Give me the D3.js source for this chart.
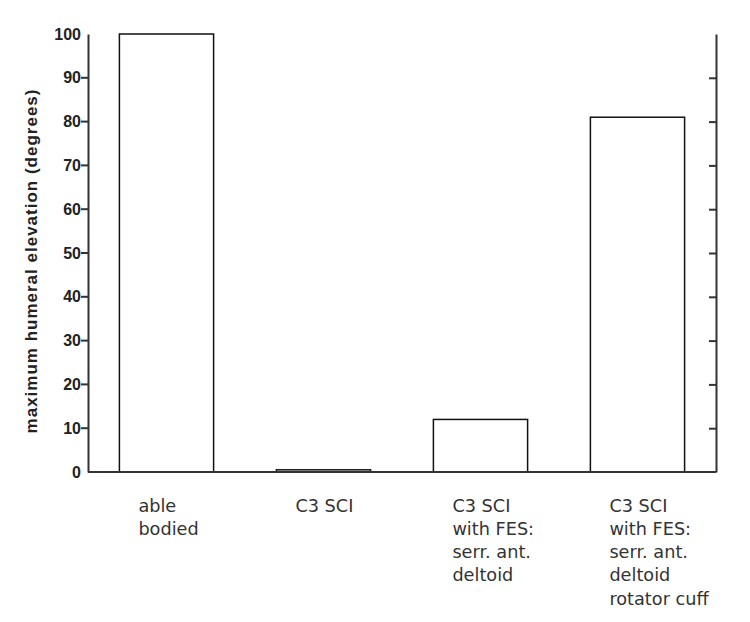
<!DOCTYPE html>
<html>
<head>
<meta charset="utf-8">
<script src="https://cdn.jsdelivr.net/npm/d3@7"></script>
<style>
  body { margin: 0; background: #fff; }
  svg text { font-family: "Liberation Sans", Arial, sans-serif; }
  svg text.cat { font-family: "DejaVu Sans", Verdana, sans-serif; }
</style>
</head>
<body>
<div id="chart"></div>
<script>
// data
const categories = ["able bodied", "C3 SCI", "C3 SCI with FES 1", "C3 SCI with FES 2"];
const catLines = [
  ["able", "bodied"],
  ["C3 SCI"],
  ["C3 SCI", "with FES:", "serr. ant.", "deltoid"],
  ["C3 SCI", "with FES:", "serr. ant.", "deltoid", "rotator cuff"]
];
const values = [100, 0.5, 12, 81];
const yTicks = [0, 10, 20, 30, 40, 50, 60, 70, 80, 90, 100];
const yTitle = "maximum humeral elevation (degrees)";

const W = 750, H = 622;
const margin = {top: 34, right: 34, bottom: 150, left: 88};
const width = W - margin.left - margin.right,
      height = H - margin.top - margin.bottom;

var svg = d3.select("#chart").append("svg")
    .attr("width", W)
    .attr("height", H)
  .append("g")
    .attr("transform", "translate(" + margin.left + "," + margin.top + ")");

var x = d3.scaleBand().domain(categories).range([0, width])
    .paddingInner(0.4).paddingOuter(0.2);
var y = d3.scaleLinear().domain([0, 100]).range([height, 0]);

// bars
svg.selectAll(".bar")
    .data(values)
  .enter().append("rect")
    .attr("class", "bar")
    .attr("x", (d, i) => x(categories[i]))
    .attr("y", d => y(d))
    .attr("width", x.bandwidth())
    .attr("height", d => Math.max(height - y(d), 0))
    .attr("fill", "#fff")
    .attr("stroke", "#111")
    .attr("stroke-width", 1.5);

// left axis
var inner = yTicks.filter(t => t > 0 && t < 100);
var left = svg.append("g")
    .call(d3.axisLeft(y).tickValues(yTicks).tickSize(0).tickPadding(7).tickFormat(d3.format("d")));
left.select(".domain").attr("stroke", "#333").attr("stroke-width", 2);
left.selectAll("text")
    .attr("font-size", "16px")
    .attr("font-weight", "bold")
    .attr("fill", "#222");
svg.append("g").selectAll("line")
    .data(inner)
  .enter().append("line")
    .attr("x1", -7).attr("x2", 0)
    .attr("y1", d => y(d)).attr("y2", d => y(d))
    .attr("stroke", "#333").attr("stroke-width", 2);

// right axis, ticks pointing inward
var right = svg.append("g")
    .attr("transform", "translate(" + width + ",0)")
    .call(d3.axisLeft(y).tickValues(inner).tickSizeInner(7).tickSizeOuter(0).tickFormat(""));
right.select(".domain").attr("stroke", "#333").attr("stroke-width", 2);
right.selectAll(".tick line").attr("stroke", "#333").attr("stroke-width", 2);

// bottom axis line
svg.append("line")
    .attr("x1", 0).attr("x2", width)
    .attr("y1", height).attr("y2", height)
    .attr("stroke", "#333").attr("stroke-width", 2);

// category labels, left aligned under bars
catLines.forEach(function(lines, i) {
  var t = svg.append("text")
      .attr("class", "cat")
      .attr("x", x(categories[i]) + 19)
      .attr("y", height + 39.5)
      .attr("font-size", "17.7px")
      .attr("fill", "#333");
  lines.forEach(function(s, j) {
    t.append("tspan")
      .attr("x", x(categories[i]) + 19)
      .attr("dy", j === 0 ? 0 : 23.3)
      .text(s);
  });
});

// y title
svg.append("text")
    .attr("transform", "translate(" + (37 - margin.left) + "," + (261 - margin.top) + ") rotate(-90)")
    .attr("text-anchor", "middle")
    .attr("font-size", "17px")
    .attr("font-weight", "bold")
    .attr("letter-spacing", "1px")
    .attr("fill", "#222")
    .text(yTitle);
</script>
</body>
</html>
